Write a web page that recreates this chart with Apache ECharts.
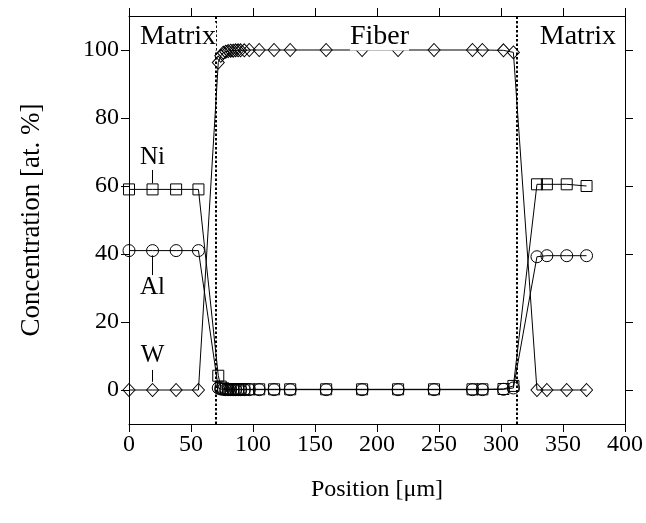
<!DOCTYPE html>
<html><head><meta charset="utf-8">
<script src="https://cdn.jsdelivr.net/npm/echarts@6/dist/echarts.min.js"></script>
<style>html,body{margin:0;padding:0;background:#fff}#c{width:646px;height:523px}</style>
</head><body><div id="c"></div>
<script>
// Positions along the line scan [µm]
const leftX  = [0, 19, 38, 56];
const fiberX = [72, 74, 76, 78, 80, 82, 84, 86, 88, 90, 93, 97, 105, 117, 130, 159, 188, 217, 246, 277, 285, 302, 310];
const rightX = [329, 337, 353, 369];

// Ni (squares)
const niLeft  = [59, 59, 59, 59];
const niFiber = [4.2, 1, 0.5, 0.3, 0.2, 0.2, 0.2, 0.2, 0.2, 0.2, 0.2, 0.2, 0.2, 0.2, 0.2, 0.2, 0.2, 0.2, 0.2, 0.2, 0.2, 0.3, 1.2];
const niRight = [60.5, 60.5, 60.5, 60];
// Al (circles)
const alLeft  = [41, 41, 41, 41];
const alFiber = [0.6, 0.3, 0.2, 0.1, 0.1, 0.1, 0.1, 0.1, 0.1, 0.1, 0.1, 0.1, 0.1, 0.1, 0.1, 0.1, 0.1, 0.1, 0.1, 0.1, 0.1, 0.2, 0.6];
const alRight = [39.2, 39.5, 39.5, 39.5];
// W (diamonds)
const wLeft  = [0, 0, 0, 0];
const wFiber = [96.3, 98.3, 99.2, 99.5, 99.7, 99.8, 99.8, 99.9, 99.9, 99.9, 99.9, 100, 100, 100, 100, 100, 100, 100, 100, 100, 100, 99.9, 99.3];
const wRight = [0, 0, 0, 0];

const xTicks = [0, 50, 100, 150, 200, 250, 300, 350, 400];
const yTicks = [0, 20, 40, 60, 80, 100];
const boundaries = [70, 313];
const regionLabels = [["Matrix", 39.5, 104], ["Fiber", 202, 104], ["Matrix", 362, 104]];
// element labels: [text, x, textY, leaderFromY, leaderToY]
const elementLabels = [["Ni", 19, 68.3, 64.7, 60.8], ["Al", 19, 30.3, 33.8, 39.6], ["W", 19, 10.3, 5.9, 2.4]];

function pts(a, b, c, ya, yb, yc) {
  const xs = a.concat(b, c), ys = ya.concat(yb, yc);
  return xs.map((x, i) => [x, ys[i]]);
}

const FONT = "Liberation Serif";
const chart = echarts.init(document.getElementById('c'), null, {renderer: 'canvas'});
const lineStyle = {color: '#000', width: 1};
function mkSeries(name, symbol, size, data) {
  return {
    name, type: 'line', data, symbol, symbolSize: size, showAllSymbol: true,
    lineStyle, itemStyle: {color: 'rgba(0,0,0,0)', borderColor: '#000', borderWidth: 1},
    emphasis: {disabled: true}, animation: false, z: 3
  };
}
const series = [
  mkSeries('Ni', 'rect', 11, pts(leftX, fiberX, rightX, niLeft, niFiber, niRight)),
  mkSeries('Al', 'circle', 12, pts(leftX, fiberX, rightX, alLeft, alFiber, alRight)),
  mkSeries('W', 'diamond', [12, 13], pts(leftX, fiberX, rightX, wLeft, wFiber, wRight))
];
series[0].markLine = {
  silent: true, symbol: 'none', animation: false, label: {show: false},
  lineStyle: {color: '#000', type: [2.5, 2], width: 2},
  data: boundaries.map(b => [{coord: [b, -10]}, {coord: [b, 110]}])
};
series[1].markLine = {
  silent: true, symbol: 'none', animation: false, label: {show: false},
  lineStyle: {color: '#000', type: 'solid', width: 1},
  data: elementLabels.map(e => [{coord: [e[1], e[3]]}, {coord: [e[1], e[4]]}])
};

const axisCommon = {
  axisLine: {show: true, onZero: false, lineStyle: {color: '#000', width: 1}},
  splitLine: {show: false},
};
chart.setOption({
  backgroundColor: '#fff',
  animation: false,
  grid: {left: 129, right: 21, top: 16, bottom: 99, containLabel: false},
  xAxis: [
    Object.assign({}, axisCommon, {
      type: 'value', min: 0, max: 400, interval: 50, position: 'bottom',
      axisTick: {show: true, inside: false, length: 8, customValues: xTicks, lineStyle: {color: '#000'}},
      axisLabel: {color: '#000', fontFamily: FONT, fontSize: 24, margin: 9, customValues: xTicks},
      name: 'Position [\u03bcm]', nameLocation: 'middle', nameGap: 54,
      nameTextStyle: {color: '#000', fontFamily: FONT, fontSize: 24}
    }),
    Object.assign({}, axisCommon, {
      type: 'value', min: 0, max: 400, interval: 50, position: 'top',
      axisTick: {show: true, inside: false, length: 8, customValues: xTicks, lineStyle: {color: '#000'}},
      axisLabel: {show: false}
    })
  ],
  yAxis: [
    Object.assign({}, axisCommon, {
      type: 'value', min: -10, max: 110, position: 'left',
      axisTick: {show: true, inside: false, length: 8, customValues: yTicks, lineStyle: {color: '#000'}},
      axisLabel: {color: '#000', fontFamily: FONT, fontSize: 24, margin: 10, customValues: yTicks},
      name: 'Concentration [at. %]', nameLocation: 'middle', nameGap: 84, nameRotate: 90,
      nameTextStyle: {color: '#000', fontFamily: FONT, fontSize: 27}
    }),
    Object.assign({}, axisCommon, {
      type: 'value', min: -10, max: 110, position: 'right',
      axisTick: {show: true, inside: false, length: 8, customValues: yTicks, lineStyle: {color: '#000'}},
      axisLabel: {show: false, customValues: yTicks}
    })
  ],
  series
});

const texts = [];
regionLabels.forEach(r => {
  const p = chart.convertToPixel({xAxisIndex: 0, yAxisIndex: 0}, [r[1], r[2]]);
  texts.push({type: 'text', x: p[0], y: p[1], z: 10,
    style: {text: r[0], fill: '#000', font: '28px "' + FONT + '"', align: 'center', verticalAlign: 'middle', backgroundColor: '#fff'}});
});
elementLabels.forEach(e => {
  const p = chart.convertToPixel({xAxisIndex: 0, yAxisIndex: 0}, [e[1], e[2]]);
  texts.push({type: 'text', x: p[0], y: p[1], z: 10,
    style: {text: e[0], fill: '#000', font: '25px "' + FONT + '"', align: 'center', verticalAlign: 'middle'}});
});
chart.setOption({graphic: texts});
</script></body></html>
